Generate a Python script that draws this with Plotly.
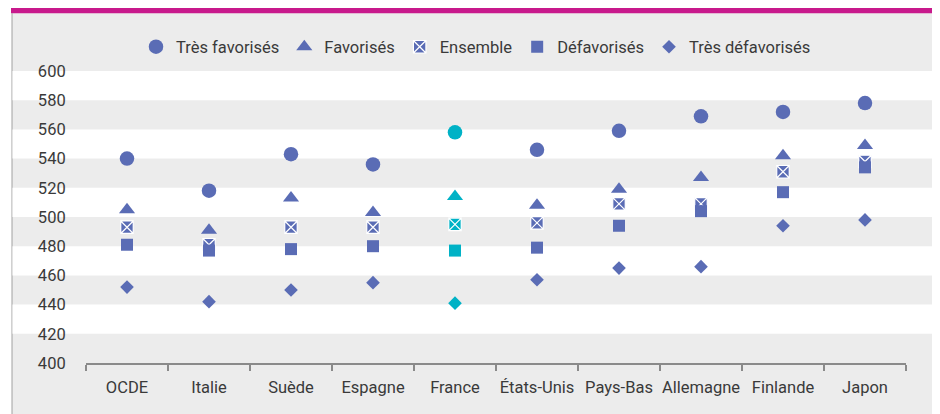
import plotly.graph_objects as go

countries = ["OCDE", "Italie", "Suède", "Espagne", "France", "États-Unis",
             "Pays-Bas", "Allemagne", "Finlande", "Japon"]
tres_favorises = [540, 518, 543, 536, 558, 546, 559, 569, 572, 578]
favorises = [505, 491, 513, 503, 514, 508, 519, 527, 542, 549]
ensemble = [493, 481, 493, 493, 495, 496, 509, 509, 531, 538]
defavorises = [481, 477, 478, 480, 477, 479, 494, 504, 517, 534]
tres_defavorises = [452, 442, 450, 455, 441, 457, 465, 466, 494, 498]
highlight = "France"

y_ticks = [400, 420, 440, 460, 480, 500, 520, 540, 560, 580, 600]
white_bands = [(420, 440), (460, 480), (500, 520), (540, 560), (580, 600)]

BLUE = "#5a6cb5"
TEAL = "#00b2c6"
GRAY_BG = "#ececec"
MAGENTA = "#c8198c"
TEXT = "#3a3a3a"
FONT = "Roboto, sans-serif"
FS = 16.5

colors = [TEAL if c == highlight else BLUE for c in countries]

series = [
    ("Très favorisés", tres_favorises, "circle", 14.5, 0, BLUE),
    ("Favorisés", favorises, "triangle-up", 14, 0, BLUE),
    ("Ensemble", ensemble, "square-x", 12.5, 1.2, "white"),
    ("Défavorisés", defavorises, "square", 12, 0, BLUE),
    ("Très défavorisés", tres_defavorises, "diamond", 10.5, 0, BLUE),
]

fig = go.Figure()
for name, vals, sym, size, lw, lc in series:
    fig.add_trace(go.Scatter(
        x=countries, y=vals, mode="markers", name=name,
        marker=dict(symbol=sym, size=size, color=colors,
                    line=dict(width=lw, color=lc)),
        cliponaxis=False,
    ))

# page body has an 8px margin: screen coords = figure coords + 8
OFF = 8
W, H = 932, 406
L, T = 86 - OFF, 71 - OFF
R = W - (906 - OFF)
B = H - (363 - OFF)
pw, ph = W - L - R, H - T - B

def px_x(p):
    return (p - OFF - L) / pw

def px_y(p):
    return (H - B - (p - OFF)) / ph

shapes = [
    dict(type="rect", xref="paper", yref="paper", layer="below",
         x0=px_x(12), x1=px_x(935), y0=px_y(430), y1=px_y(13),
         fillcolor=GRAY_BG, line=dict(width=0)),
    dict(type="rect", xref="paper", yref="paper", layer="below",
         x0=px_x(11), x1=px_x(936), y0=px_y(13.3), y1=px_y(8),
         fillcolor=MAGENTA, line=dict(width=0)),
    dict(type="line", xref="paper", yref="paper", layer="below",
         x0=px_x(12), x1=px_x(12), y0=px_y(430), y1=px_y(13),
         line=dict(color="#a0a0a0", width=1)),
    dict(type="line", xref="paper", yref="paper", layer="below",
         x0=px_x(935.5), x1=px_x(935.5), y0=px_y(430), y1=px_y(13),
         line=dict(color="#c4c4c4", width=2)),
]
for y0, y1 in white_bands:
    shapes.append(dict(type="rect", xref="paper", yref="y", layer="below",
                       x0=px_x(12.5), x1=px_x(934.5), y0=y0, y1=y1,
                       fillcolor="white", line=dict(width=0)))

fig.update_layout(
    width=W, height=H,
    margin=dict(l=L, r=R, t=T, b=B, pad=0, autoexpand=False),
    paper_bgcolor="white",
    plot_bgcolor="rgba(0,0,0,0)",
    font=dict(family=FONT, size=FS, color=TEXT),
    shapes=shapes,
    showlegend=True,
    legend=dict(orientation="h", x=px_x(476), xanchor="center",
                y=px_y(47), yanchor="middle", bgcolor="rgba(0,0,0,0)",
                font=dict(family=FONT, size=FS, color=TEXT),
                itemclick=False, traceorder="normal"),
    xaxis=dict(type="category", categoryorder="array", categoryarray=countries,
               range=[-0.5, len(countries) - 0.5],
               showgrid=False, zeroline=False, automargin=False,
               showline=True, linecolor="#8a8a8a", linewidth=1.5,
               ticks="outside", ticklen=6, tickwidth=1.5, tickcolor="#8a8a8a",
               tickson="boundaries", ticklabelstandoff=8, tickangle=0,
               tickfont=dict(family=FONT, size=FS, color=TEXT),
               fixedrange=True),
    yaxis=dict(range=[400, 600], tickvals=y_ticks, automargin=False,
               showgrid=False, zeroline=False, showline=False,
               ticks="outside", ticklen=16, tickcolor="rgba(0,0,0,0)",
               tickfont=dict(family=FONT, size=FS, color=TEXT),
               fixedrange=True),
)

fig.write_html("out.html",
               post_script="document.documentElement.style.overflow='hidden';"
                           "document.body.style.overflow='hidden';")
